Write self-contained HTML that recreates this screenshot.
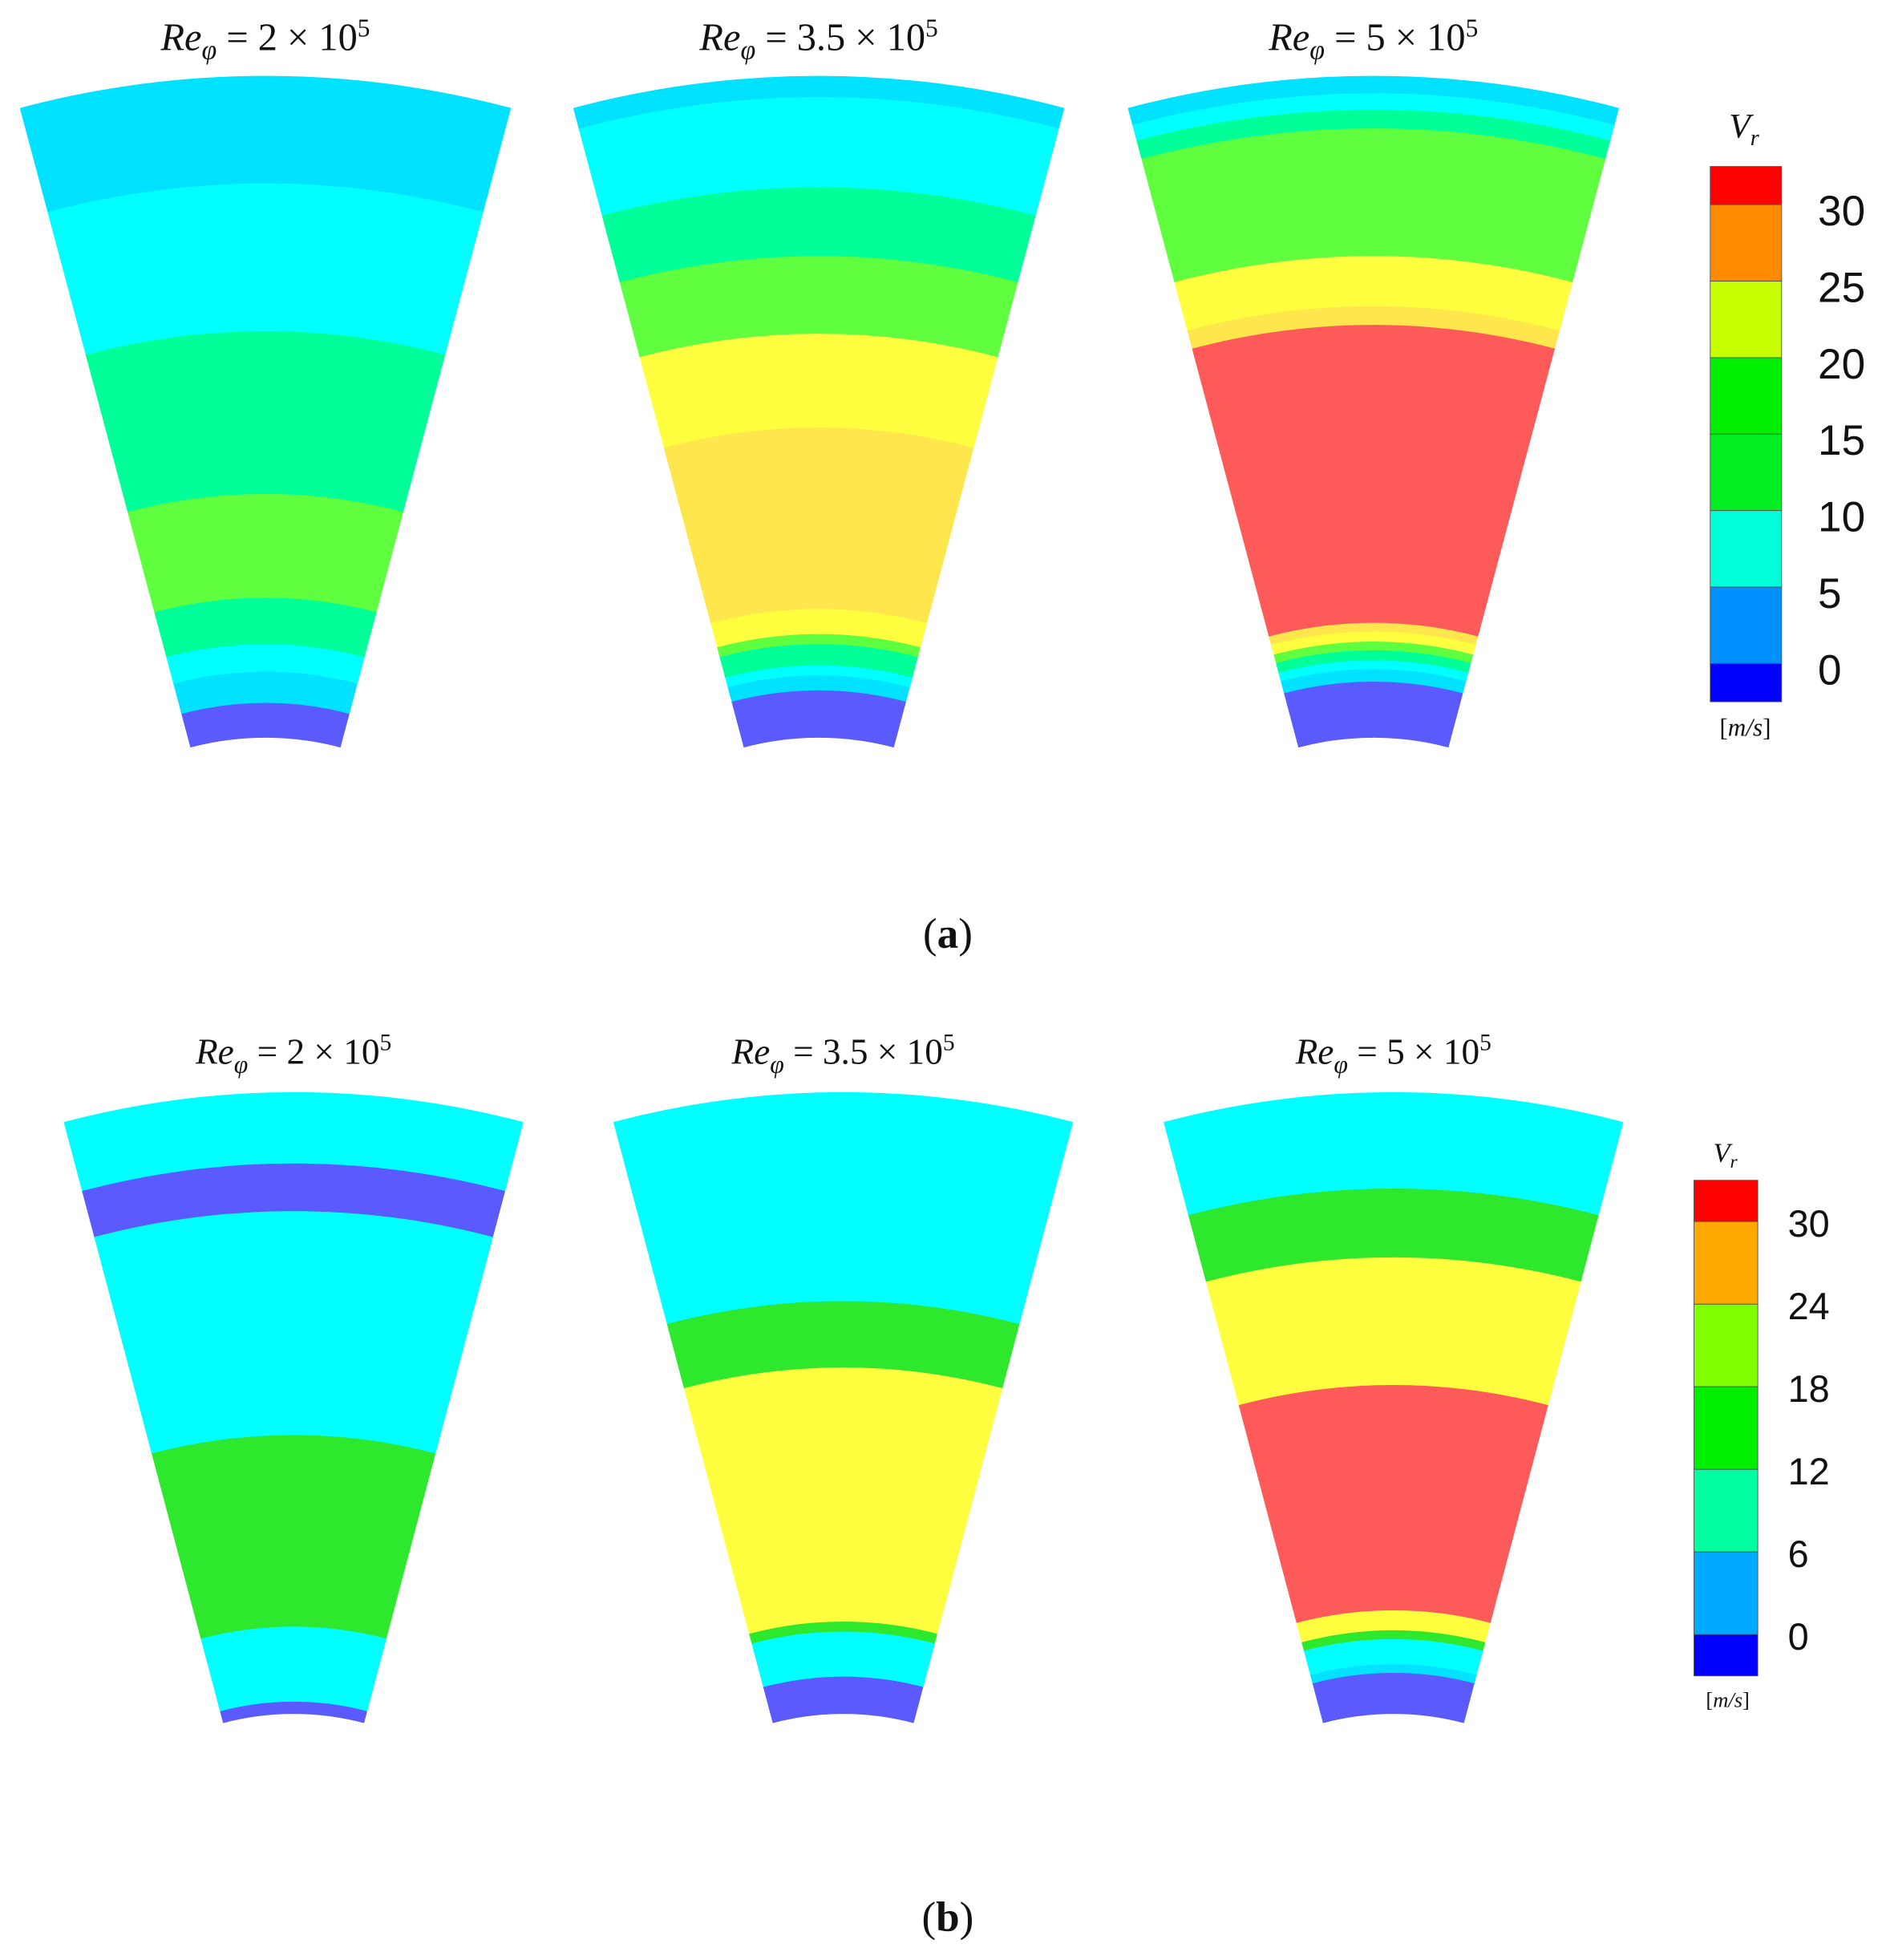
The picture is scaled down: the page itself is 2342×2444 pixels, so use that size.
<!DOCTYPE html>
<html><head><meta charset="utf-8"><style>
html,body{margin:0;padding:0;background:#fff}
svg{display:block}
text{font-family:"Liberation Serif",serif}
</style></head><body>
<svg id="fig" width="2342" height="2444" viewBox="0 0 1500 1566" preserveAspectRatio="none" xmlns="http://www.w3.org/2000/svg"></svg>
<script>
// Fan centres (view units) and geometry
const fanCx = [212, 654, 1097, 234.5, 673.5, 1113];
const fanCy = [822, 822, 822, 1589, 1589, 1589];
const fanTitles = ["2 \u00d7 10", "3.5 \u00d7 10", "5 \u00d7 10", "2 \u00d7 10", "3.5 \u00d7 10", "5 \u00d7 10"];
// band boundaries as y along centre line (top -> bottom)
const fanBounds = [
 [61,147,265,395,478,515,537,562,589],
 [61,78,150,205,267,342,487,507,515,522,532,540,552,589],
 [61,75,88,103,205,245,260,498,505,513,520,528,535,545,589],
 [873,930,968,1147,1300,1360,1369],
 [873,1040,1093,1296,1304,1340,1369],
 [873,950,1005,1107,1287,1303,1310,1330,1337,1369]
];
const fanColors = [
 ["#00e2ff","#00ffff","#00ff99","#5fff3f","#00ff99","#00ffff","#00e2ff","#5a5aff"],
 ["#00e2ff","#00ffff","#00ff99","#5fff3f","#ffff40","#ffe64d","#ffff40","#5fff3f","#00ff99","#00ff99","#00ffff","#00e2ff","#5a5aff"],
 ["#00e2ff","#00ffff","#00ff99","#5fff3f","#ffff40","#ffe64d","#ff5a5a","#ffe64d","#ffff40","#5fff3f","#00ff99","#00ffff","#00e2ff","#5a5aff"],
 ["#00ffff","#5a5aff","#00ffff","#2ee82e","#00ffff","#5a5aff"],
 ["#00ffff","#2ee82e","#ffff40","#2ee82e","#00ffff","#5a5aff"],
 ["#00ffff","#2ee82e","#ffff40","#ff5a5a","#ffff40","#2ee82e","#00ffff","#00e2ff","#5a5aff"]
];
const halfAngles = [14.93,14.93,14.93,14.85,14.85,14.85];
// colorbars
const cbATicks = ["30","25","20","15","10","5","0"];
const cbAColors = ["#ff0000","#ff8c00","#c8ff00","#00ee00","#00ee22","#00ffd8","#0090ff","#0000ff"];
const cbBTicks = ["30","24","18","12","6","0"];
const cbBColors = ["#ff0000","#ffa800","#80ff00","#00ee00","#00ffa0","#00aaff","#0000ff"];

const NS="http://www.w3.org/2000/svg";
const svg=document.getElementById('fig');
function el(tag,attrs,parent){const e=document.createElementNS(NS,tag);for(const k in attrs)e.setAttribute(k,attrs[k]);(parent||svg).appendChild(e);return e;}
function sector(cx,cy,ro,ri,a){
  const s=Math.sin(a*Math.PI/180),c=Math.cos(a*Math.PI/180);
  return `M${cx-ro*s},${cy-ro*c} A${ro},${ro} 0 0 1 ${cx+ro*s},${cy-ro*c} L${cx+ri*s},${cy-ri*c} A${ri},${ri} 0 0 0 ${cx-ri*s},${cy-ri*c} Z`;
}
for(let f=0;f<6;f++){
  const g=el('g',{});
  
  
  const b=fanBounds[f];
  for(let i=0;i<b.length-1;i++){
    const ro=fanCy[f]-b[i], ri=fanCy[f]-b[i+1];
    const p=el('path',{d:sector(fanCx[f],fanCy[f],ro+0.4,ri-0.4,halfAngles[f]),fill:fanColors[f][i]},g);
    
    
  }
  const ty = f<3?40:850, fs=f<3?31:29;
  const t=el('text',{x:fanCx[f],y:ty,'text-anchor':'middle','font-size':fs,'font-style':'italic',fill:'#111'});
  
  
  t.innerHTML='Re<tspan font-size="'+(fs*0.7)+'" dy="7">\u03c6</tspan><tspan dy="-7" font-style="normal"> = '+fanTitles[f]+'</tspan><tspan font-style="normal" font-size="'+(fs*0.65)+'" dy="-11">5</tspan>';
}
function colorbar(x,y0,w,segs,colors,ticks,lx,fs,name,off){
  const g=el('g',{});
  
  
  let y=y0;
  for(let i=0;i<colors.length;i++){
    const h=(i==0||i==colors.length-1)?segs/2:segs;
    const r=el('rect',{x:x,y:y,width:w,height:h,fill:colors[i],stroke:'#555','stroke-width':0.6},g);
    
    
    if(i<ticks.length){
      const t=el('text',{x:lx,y:y+h+fs*0.37+off,'font-size':fs,fill:'#111'},g);
      
      
      t.style.fontFamily='"Liberation Sans",sans-serif';
      t.textContent=ticks[i];
    }
    y+=h;
  }
  return y;
}
colorbar(1366,133,57,61.1,cbAColors,cbATicks,1452,34,'colorbar-a',4);
colorbar(1353,943,51,66,cbBColors,cbBTicks,1428,30,'colorbar-b',1);
function label(x,y,fs,html,name){
  const t=el('text',{x:x,y:y,'text-anchor':'middle','font-size':fs,fill:'#111'});
  
  
  t.innerHTML=html;
}
label(1393,110,28,'<tspan font-style="italic">V</tspan><tspan font-style="italic" font-size="18" dy="6">r</tspan>','colorbar-a-title');
label(1394,588,20,'[<tspan font-style="italic">m/s</tspan>]','colorbar-a-unit');
label(1378,928,22,'<tspan font-style="italic">V</tspan><tspan font-style="italic" font-size="15" dy="5">r</tspan>','colorbar-b-title');
label(1380,1364,17,'[<tspan font-style="italic">m/s</tspan>]','colorbar-b-unit');
label(757,757,34,'(<tspan font-weight="bold">a</tspan>)','panel-label-a');
label(757,1543,34,'(<tspan font-weight="bold">b</tspan>)','panel-label-b');
</script>
</body></html>
